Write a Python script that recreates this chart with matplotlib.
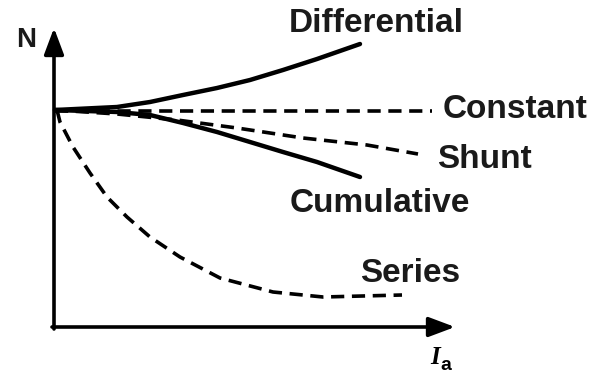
import matplotlib.pyplot as plt

plt.rcParams['font.family'] = ['Liberation Sans', 'DejaVu Sans']
plt.rcParams['lines.scale_dashes'] = False

# speed N against armature current Ia for the dc motor types
ia_diff = [1, 63, 96, 129, 163, 196, 229, 263, 306]
n_diff = [217, 220, 225, 232, 239, 247, 257, 268, 283]

ia_const = [1, 378]
n_const = [216, 216]

ia_shunt = [1, 63, 123, 183, 249, 313, 364]
n_shunt = [217, 213, 207, 199, 189, 182, 173]

ia_cum = [1, 63, 96, 129, 163, 196, 229, 263, 306]
n_cum = [217, 215, 212, 204, 195, 185, 175, 165, 150]

ia_series = [3, 6, 19, 36, 53, 73, 96, 126, 166, 219, 269, 348]
n_series = [217, 205, 180, 154, 130, 110, 90, 70, 49, 35, 30, 32]

curve_labels = ['Differential', 'Constant', 'Shunt', 'Cumulative', 'Series']


def main():
    fig = plt.figure(figsize=(5.97, 3.77), dpi=100)
    ax = fig.add_axes([0, 0, 1, 1])
    ax.set_xlim(-54, 543)
    ax.set_ylim(-50, 327)
    ax.axis('off')

    dash = (9.5, 5.5)
    ax.plot(ia_diff, n_diff, color='k', lw=3.2, solid_capstyle='round')
    ax.plot(ia_cum, n_cum, color='k', lw=3.2, solid_capstyle='round')
    ax.plot(ia_const, n_const, color='k', lw=2.6, dashes=dash)
    ax.plot(ia_shunt, n_shunt, color='k', lw=2.6, dashes=dash)
    ax.plot(ia_series, n_series, color='k', lw=2.6, dashes=dash)

    # axes with arrow heads
    arrow = dict(arrowstyle='-|>,head_length=0.8,head_width=0.3', lw=2.6,
                 color='k', shrinkA=0, shrinkB=0, mutation_scale=20)
    ax.annotate('', xy=(401, 0), xytext=(-2, 0), arrowprops=arrow)
    ax.annotate('', xy=(0, 299), xytext=(0, -2), arrowprops=arrow)

    txt = dict(fontsize=24, fontweight='bold', color='#1a1a1a', va='center')
    ax.text(322, 304, curve_labels[0], ha='center', **txt)
    ax.text(389, 217, curve_labels[1], ha='left', **txt)
    ax.text(383, 167, curve_labels[2], ha='left', **txt)
    ax.text(236, 124, curve_labels[3], ha='left', **txt)
    ax.text(306, 54, curve_labels[4], ha='left', **txt)

    ax.text(-28, 287, 'N', ha='center', va='center', fontsize=20,
            fontweight='bold', color='#1a1a1a')
    ax.text(381, -31, 'I', ha='center', va='center', fontsize=18,
            fontweight='bold', fontstyle='italic', family='Liberation Serif')
    ax.text(392, -38, 'a', ha='center', va='center', fontsize=14,
            fontweight='bold')

    fig.savefig('out.png', dpi=100)


if __name__ == '__main__':
    main()
